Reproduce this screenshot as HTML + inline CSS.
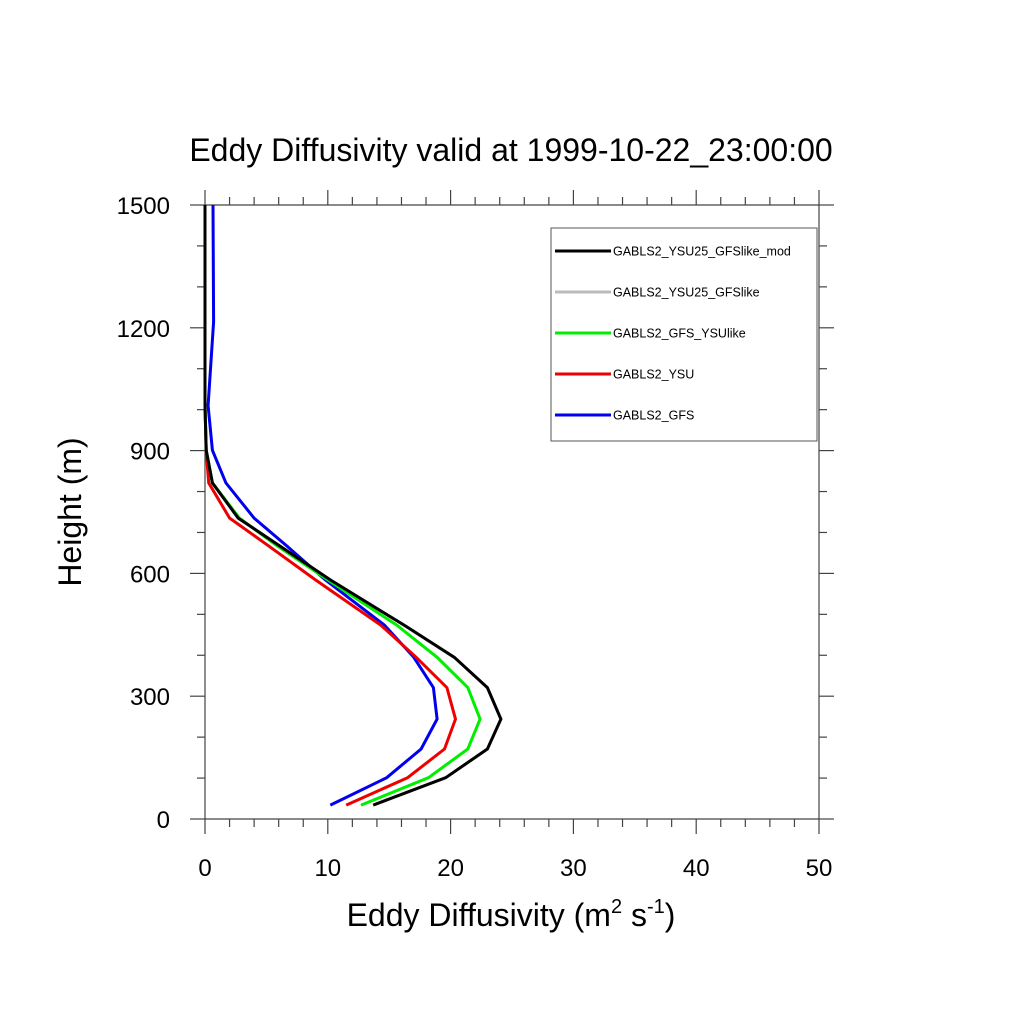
<!DOCTYPE html>
<html><head><meta charset="utf-8"><style>
html,body{margin:0;padding:0;background:#fff}
svg{display:block;font-family:"Liberation Sans",sans-serif}
</style></head><body>
<svg id="chart" width="1024" height="1024">
<text x="511" y="161" font-size="32" text-anchor="middle">Eddy Diffusivity valid at 1999-10-22_23:00:00</text>
<text transform="translate(81,512) rotate(-90)" font-size="32" text-anchor="middle">Height (m)</text>
<text x="511" y="926" font-size="32" text-anchor="middle">Eddy Diffusivity (m<tspan font-size="20" dy="-13">2</tspan><tspan dy="13"> s</tspan><tspan font-size="20" dy="-13">-1</tspan><tspan dy="13">)</tspan></text>
<g id="axes"></g>
<g id="series"></g>
<g id="legend">
<rect x="551" y="228" width="266" height="213" fill="#fff" stroke="#555" stroke-width="1"/>
</g>
</svg>
<script>
const heights=[34,101,171,244,321,395,474,584,669,735,821,901,1010,1215,1500];
const seriesNames=["GABLS2_YSU25_GFSlike_mod","GABLS2_YSU25_GFSlike","GABLS2_GFS_YSUlike","GABLS2_YSU","GABLS2_GFS"];
const seriesColors=["#000","#bbb","#00ee00","#ee0000","#0000ee"];
const blackVals=[13.7,19.6,23.0,24.1,23.0,20.3,16.2,10.2,6.0,2.7,0.6,0.1,0,0,0];
const grayVals=[13.7,19.6,23.0,24.1,23.0,20.3,16.2,10.2,6.0,2.7,0.6,0.1,0,0,0];
const greenVals=[12.7,18.2,21.4,22.4,21.4,18.9,15.6,10.0,5.8,2.8,0.6,0.1,0,0,0];
const redVals=[11.5,16.5,19.5,20.4,19.7,17.2,14.3,9.0,5.1,2.0,0.3,0.1,0,0,0];
const blueVals=[10.2,14.8,17.6,18.9,18.6,17.0,14.6,9.8,6.6,4.0,1.7,0.6,0.25,0.7,0.65];
const xTicks=[0,10,20,30,40,50];
const yTicks=[0,300,600,900,1200,1500];
const NS="http://www.w3.org/2000/svg";
const X0=205,X1=819,Y0=819,Y1=205;
const xs=v=>X0+(v-0)/50*(X1-X0);
const ys=v=>Y0-(v-0)/1500*(Y0-Y1);
function mk(tag,at,parent){const e=document.createElementNS(NS,tag);for(const k in at)e.setAttribute(k,at[k]);parent.appendChild(e);return e;}
const axes=document.getElementById('axes');
const ac="#444";
// frame
[[X0,Y0,X1,Y0],[X0,Y1,X1,Y1],[X0,Y0,X0,Y1],[X1,Y0,X1,Y1]].forEach(a=>{
 const l=mk('line',{x1:a[0],y1:a[1],x2:a[2],y2:a[3],stroke:ac,'stroke-width':1.2},axes);
 
 
});
for(let v=0;v<=50;v+=2){
 const maj=v%10===0,L=maj?15:8,x=xs(v);
 mk('line',{x1:x,y1:Y0,x2:x,y2:Y0+L,stroke:ac,'stroke-width':1.2},axes);
 mk('line',{x1:x,y1:Y1,x2:x,y2:Y1-L,stroke:ac,'stroke-width':1.2},axes);
}
for(let v=0;v<=1500;v+=100){
 const maj=v%300===0,L=maj?15:8,y=ys(v);
 mk('line',{x1:X0,y1:y,x2:X0-L,y2:y,stroke:ac,'stroke-width':1.2},axes);
 mk('line',{x1:X1,y1:y,x2:X1+L,y2:y,stroke:ac,'stroke-width':1.2},axes);
}
xTicks.forEach(v=>{const t=mk('text',{x:xs(v),y:876,'font-size':24,'text-anchor':'middle'},axes);t.textContent=v;
 
 });
yTicks.forEach(v=>{const t=mk('text',{x:170,y:ys(v)+9,'font-size':24,'text-anchor':'end'},axes);t.textContent=v;
 
 });
const allVals=[blackVals,grayVals,greenVals,redVals,blueVals];
const order=[1,4,3,2,0];
const sg=document.getElementById('series');
order.forEach(i=>{
 const pts=allVals[i].map((v,j)=>xs(v).toFixed(1)+','+ys(heights[j]).toFixed(1)).join(' ');
 const p=mk('polyline',{points:pts,fill:'none',stroke:seriesColors[i],'stroke-width':3,'stroke-linejoin':'miter'},sg);
 
 
});
const lg=document.getElementById('legend');
seriesNames.forEach((n,i)=>{
 const y=251+i*41;
 const l=mk('line',{x1:555,y1:y,x2:611,y2:y,stroke:seriesColors[i],'stroke-width':3},lg);
 
 
 const t=mk('text',{x:613,y:y+4.5,'font-size':12.5},lg);t.textContent=n;
 
 
});
</script>
</body></html>
